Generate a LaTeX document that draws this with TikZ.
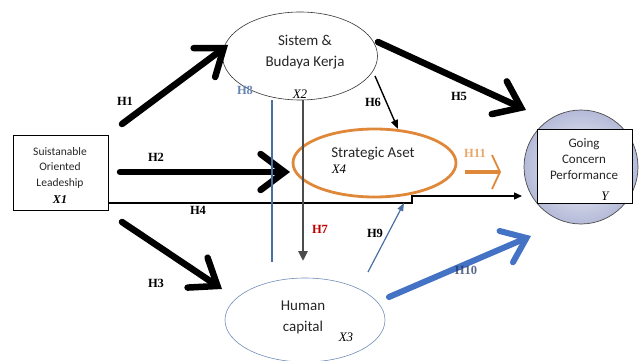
\documentclass[tikz,border=0pt]{standalone}
\usepackage{fontspec}
\setmainfont{Liberation Serif}
\newfontfamily\carlitofam{Carlito}
\usetikzlibrary{shapes.geometric,arrows.meta}
\definecolor{orng}{HTML}{E0883A}
\definecolor{blu}{HTML}{4472C4}
\definecolor{thinblu}{HTML}{4A6FA5}
\definecolor{circfill}{HTML}{B4BAD8}
\tikzset{
  txt/.style={font=\carlitofam\fontsize{15}{21}\selectfont, align=center, text=black!85, inner sep=0pt},
  hlab/.style={font=\bfseries\fontsize{12.5}{14}\selectfont, inner sep=0pt},
  xlab/.style={font=\itshape\fontsize{13}{14}\selectfont, inner sep=0pt},
  bigarrow/.style={line width=6.5pt, line cap=round, -{Straight Barb[length=24pt,width=36pt,line cap=round]}},
}
\begin{document}
\begin{tikzpicture}[x=1pt,y=-1pt]
\useasboundingbox (0,0) rectangle (640,361);
% nodes
\node[draw, line width=0.8pt, minimum width=95pt, minimum height=75pt, inner sep=0pt] (x1) at (60.5,172.5) {};
\node[txt, font=\carlitofam\fontsize{11.5}{15.5}\selectfont] (x1t) at (60,167.5) {Suistanable\\Oriented\\Leadeship};
\node[font=\bfseries\itshape\fontsize{12}{14}\selectfont, inner sep=0pt] (x1l) at (60,200) {X1};

\node[ellipse, draw=black!80, line width=0.6pt, minimum width=155pt, minimum height=88pt] (x2) at (300,56) {};
\node[txt] (x2t) at (305,52) {Sistem \&\\Budaya Kerja};
\node[xlab] (x2l) at (300,94) {X2};

\shade[inner color=white!92!circfill, outer color=circfill] (581,167) circle (57);
\draw[line width=0.7pt, black!70] (581,167) circle (57) node (y) {};
\node[draw, fill=white, line width=0.8pt, minimum width=95pt, minimum height=74pt, inner sep=0pt] (ybox) at (584.5,166) {};
\node[txt, font=\carlitofam\fontsize{13}{16}\selectfont] (yt) at (584,159) {Going\\Concern\\Performance};
\node[xlab] (yl) at (605,196) {Y};

\node[ellipse, draw=orng, line width=2.8pt, minimum width=163pt, minimum height=68pt] (x4) at (374.5,163) {};
\node[txt] (x4t) at (373,154) {Strategic Aset};
\node[xlab] (x4l) at (339,169) {X4};

\node[ellipse, draw=thinblu!80, line width=0.6pt, minimum width=160pt, minimum height=84pt] (x3) at (305,320) {};
\node[txt] (x3t) at (303,317) {Human\\capital};
\node[xlab] (x3l) at (346,337) {X3};

% coordinates
\coordinate (h1s) at (122,124); \coordinate (h1e) at (228,45);
\coordinate (h2s) at (120,172); \coordinate (h2e) at (290,172);
\coordinate (h3s) at (122,222); \coordinate (h3e) at (222,289);
\coordinate (h5s) at (378,42); \coordinate (h5e) at (526,110);
\coordinate (h4s) at (108,203); \coordinate (h4a) at (412,203); \coordinate (h4b) at (412,196); \coordinate (h4e) at (522,196);
\coordinate (h6s) at (375,76); \coordinate (h6e) at (398,129);
\coordinate (h7s) at (303,100); \coordinate (h7e) at (303,261);
\coordinate (h8s) at (272,100); \coordinate (h8e) at (272,262);
\coordinate (h9s) at (368,272); \coordinate (h9e) at (404,203);
\coordinate (h10s) at (389,297); \coordinate (h10e) at (531,236);
\coordinate (h11s) at (465,172); \coordinate (h11e) at (501,172);

% connectors
\draw[bigarrow] (h1s) -- (h1e);
\draw[bigarrow] (h2s) -- (h2e);
\draw[bigarrow] (h3s) -- (h3e);
\draw[bigarrow] (h5s) -- (h5e);
\draw[line width=1.3pt, -{Triangle[length=8pt,width=7pt]}] (h4s) -- (h4a) -- (h4b) -- (h4e);
\draw[line width=1.4pt, -{Triangle[length=9pt,width=7pt]}] (h6s) -- (h6e);
\draw[line width=2.6pt, black!70, -{Triangle[length=10pt,width=9pt]}] (h7s) -- (h7e);
\draw[line width=1.2pt, thinblu] (h8s) -- (h8e);
\draw[line width=1.2pt, thinblu, -{Triangle[length=8pt,width=6pt]}] (h9s) -- (h9e);
\draw[line width=6pt, blu, line cap=round, -{Straight Barb[length=22pt,width=34pt,line cap=round]}] (h10s) -- (h10e);
\draw[line width=4.5pt, orng, -{Straight Barb[length=8pt,width=34pt,line width=1.8pt]}] (h11s) -- (h11e);

% labels
\node[hlab] (lh1) at (125,101) {H1};
\node[hlab] (lh2) at (156,157) {H2};
\node[hlab] (lh3) at (156,283) {H3};
\node[hlab] (lh4) at (198,210) {H4};
\node[hlab] (lh5) at (459,96) {H5};
\node[hlab] (lh6) at (373,102) {H6};
\node[hlab, text=red!75!black] (lh7) at (320,229) {H7};
\node[hlab, text=thinblu!85] (lh8) at (245,90) {H8};
\node[hlab] (lh9) at (375,233) {H9};
\node[hlab, text=blu!50!black, opacity=0.75] (lh10) at (466,270) {H10};
\node[hlab, text=orng!75] (lh11) at (475,153) {H11};
\end{tikzpicture}
\end{document}
